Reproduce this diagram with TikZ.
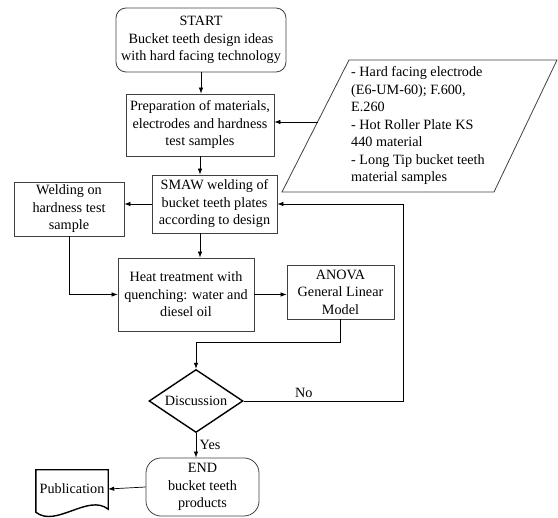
\documentclass[tikz,border=0pt]{standalone}
\usepackage{fontspec}
\setmainfont{Liberation Serif}
\usepackage{tikz}
\usetikzlibrary{arrows.meta,calc,positioning,shapes.geometric}

\begin{document}
\begin{tikzpicture}[x=1pt,y=-1pt,>={Latex[length=6pt,width=4.5pt]},
  font=\fontsize{14.2}{17.5}\selectfont,
  box/.style={draw=black!75,line width=0.8pt,align=center,inner sep=1pt},
  term/.style={box,rounded corners=#1},
  link/.style={->,line width=0.7pt}]

  \useasboundingbox (0,0) rectangle (558,518);

  % Main steps
  \node[term=10pt,minimum width=170pt,minimum height=64pt] (start) at (201,40) {START\\Bucket teeth design ideas\\with hard facing technology};
  \node[box,minimum width=148pt,minimum height=62pt] (prep) at (200,125) {Preparation of materials,\\electrodes and hardness\\test samples};
  \node[box,minimum width=125pt,minimum height=58pt] (smaw) at (214.5,204) {SMAW welding of\\bucket teeth plates\\according to design};
  \node[box,minimum width=110pt,minimum height=54pt] (weld) at (69,209) {Welding on\\hardness test\\sample};
  \node[box,minimum width=136pt,minimum height=73pt] (heat) at (186,294.5) {Heat treatment with\\quenching: water and\\diesel oil};
  \node[box,minimum width=107pt,minimum height=54pt] (anova) at (340.5,292) {ANOVA\\General Linear\\Model};
  \node[diamond,draw,line width=1.4pt,aspect=1.5,inner sep=0pt,minimum width=94pt,minimum height=63pt] (disc) at (196,401) {Discussion};
  \node[term=15pt,minimum width=113pt,minimum height=58pt] (finish) at (202.5,487) {END\\bucket teeth\\products};

  % Input materials
  \draw[draw=black!75,line width=0.8pt] (349,60) -- (557,60) -- (494,192) -- (282,192) -- cycle;
  \node[align=left,anchor=west,inner sep=0pt] (mat) at (351,126) {- Hard facing electrode\\(E6-UM-60); F.600,\\E.260\\- Hot Roller Plate KS\\440 material\\- Long Tip bucket teeth\\material samples};
  \coordinate (matin) at (317.5,122);

  % Publication document
  \node[minimum width=72pt,minimum height=38pt,inner sep=0pt] (pub) at (72,489) {Publication};
  \coordinate (pubL) at ($(pub.south west)+(0,4)$);
  \coordinate (pubR) at ($(pub.south east)+(0,1)$);
  \draw[line width=1.4pt] (pubL) -- (pub.north west) -- (pub.north east) -- (pubR) .. controls +(-20,-16) and +(20,16) .. (pubL) -- cycle;

  % Flow
  \draw[link] (start.south) -- (start.south |- prep.north);
  \draw[link] (matin) -- (matin -| prep.east);
  \draw[link] (prep.south) -- (prep.south |- smaw.north);
  \draw[link] (smaw.west) -- (smaw.west -| weld.east);
  \draw[link] (prep.south |- smaw.south) -- (prep.south |- heat.north);
  \draw[link] (weld.south) |- (heat.west);
  \draw[link] (heat.east) -- (heat.east -| anova.west);
  \draw[link] (anova.south) -- ++(0,23) -| (disc.north);
  \draw[link] (disc.east) -- node[above,pos=0.375] {No} ++(160,0) |- (smaw.east);
  \draw[link] (disc.south) -- node[right] {Yes} (disc.south |- finish.north);
  \draw[link] (finish.west) -- (pub.east);
\end{tikzpicture}
\end{document}
